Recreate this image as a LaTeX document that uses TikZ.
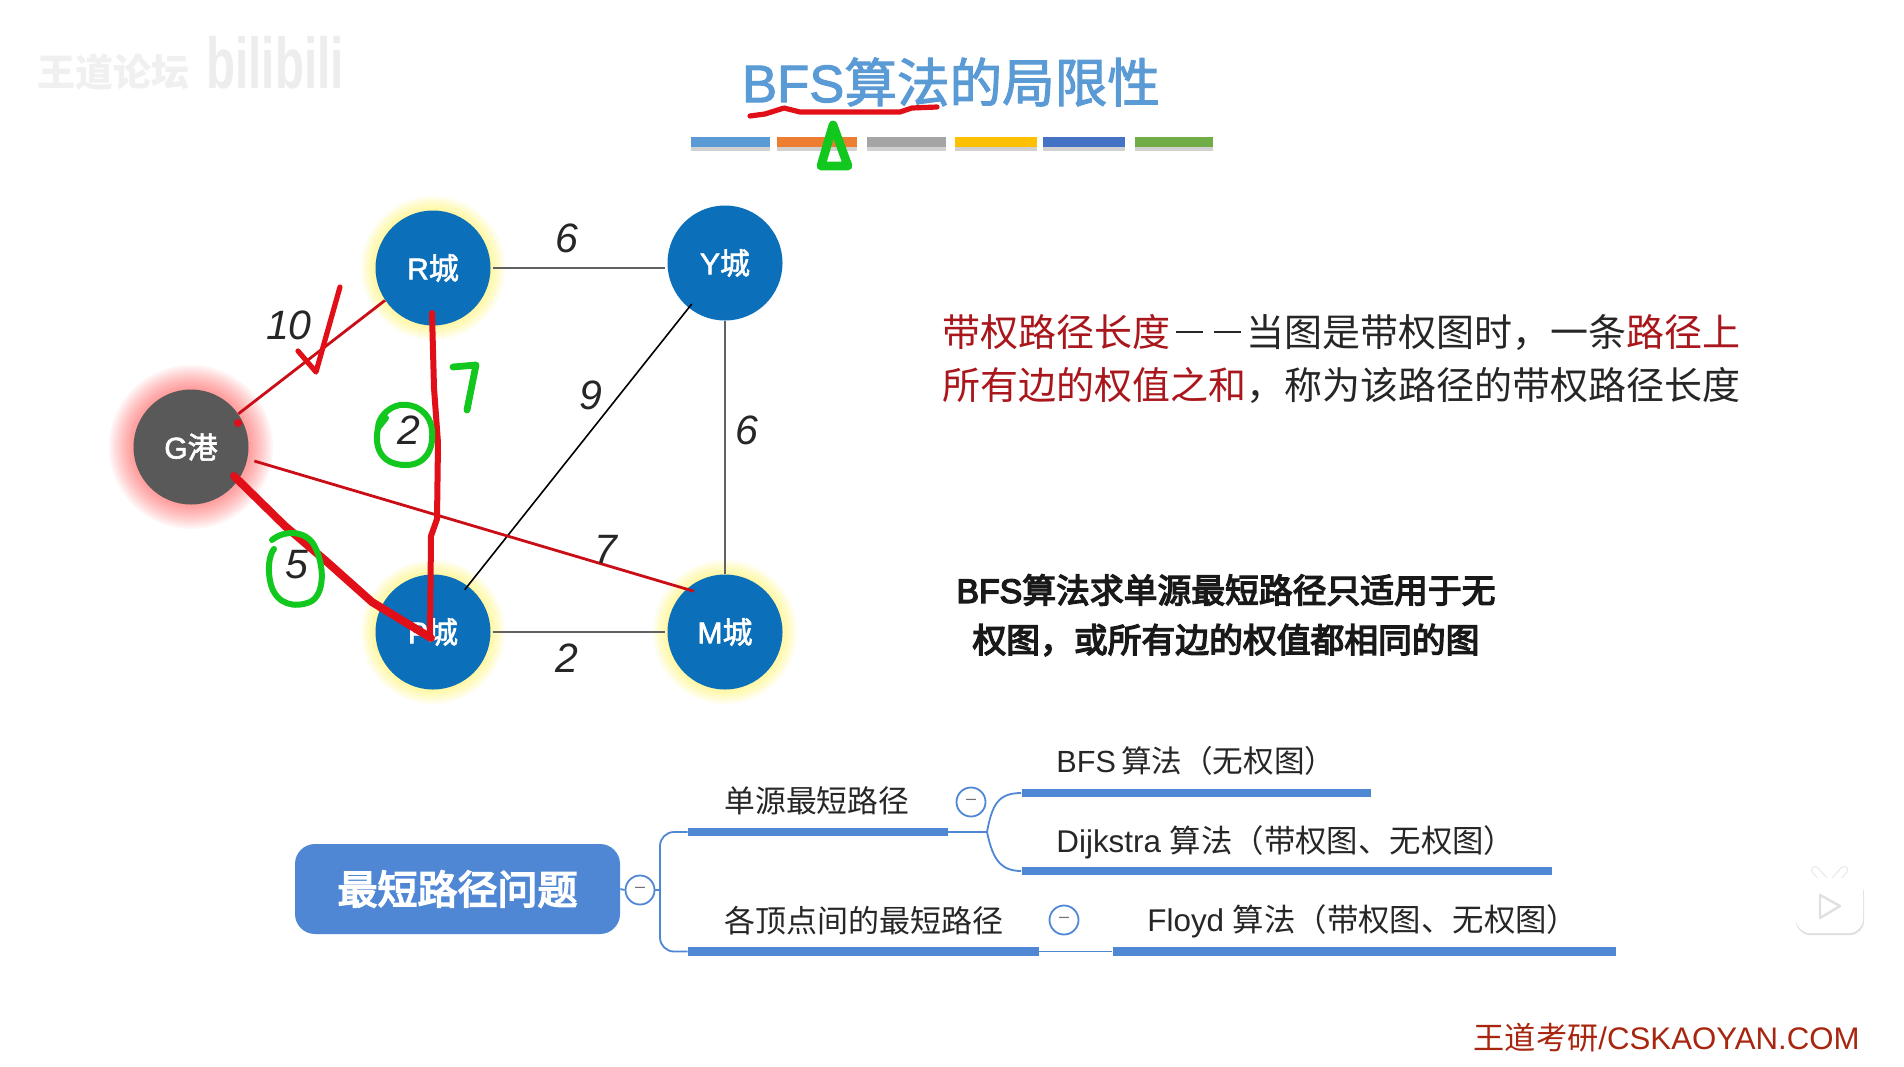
\documentclass[tikz,border=0pt]{standalone}
\usepackage{fontspec}
\setmainfont{Liberation Sans}
\newfontfamily\cjk{Noto Sans CJK SC}
\newfontfamily\cjkm[FakeBold=2]{Noto Sans CJK SC}
\newfontfamily\cjkb[FakeBold=4]{Noto Sans CJK SC}
\newfontfamily\latm[FakeBold=2]{Liberation Sans}
\newfontfamily\latb[FakeBold=4]{Liberation Sans}
\newcommand\cj[1]{{\cjk #1}}
\newcommand\cjm[1]{{\cjkm #1}}
\newcommand\cjb[1]{{\cjkb #1}}
\newcommand\fsz[1]{\fontsize{#1}{#1}\selectfont}
\newcommand\dashcell{\makebox[1em]{\rule[0.33em]{0.72em}{0.07em}}}
\usetikzlibrary{calc}
\pgfdeclarelayer{bg}
\pgfdeclarelayer{top}
\pgfsetlayers{bg,main,top}
\definecolor{cityblue}{HTML}{0B6FBA}
\definecolor{portgray}{HTML}{595959}
\definecolor{titleblue}{HTML}{5B9BD5}
\definecolor{mapblue}{HTML}{4F87D4}
\definecolor{darkred}{HTML}{A9161C}
\definecolor{footred}{HTML}{A8260F}
\definecolor{inkred}{HTML}{E00F18}
\definecolor{inkgreen}{HTML}{12C81E}
\tikzset{
  city/.style={circle,fill=cityblue,text=white,minimum size=57.5pt,inner sep=0pt,font=\fsz{15}\latm},
  port/.style={city,fill=portgray},
  edgeg/.style={draw=black!62,line width=1.4pt},
  edgek/.style={draw=black,line width=.8pt},
  edger/.style={draw=inkred!90!black,line width=1.4pt},
  weight/.style={inner sep=0pt,font=\fsz{20.5}\itshape,text=black!85},
  inkr/.style={draw=inkred,line cap=round,line join=round,line width=2.8pt},
  inkg/.style={draw=inkgreen,line cap=round,line join=round,line width=3pt},
  swatch/.style={inner sep=0pt,minimum height=5pt},
  lbl/.style={anchor=west,inner sep=0pt,font=\fsz{19}\cjk,text=black!85},
  bfslbl/.style={inner sep=0pt,font=\fsz{16.9}\latb,text=black!90},
  maplbl/.style={anchor=west,inner sep=0pt,font=\fsz{15.3},text=black!85},
  bar/.style={fill=mapblue,inner sep=0pt,minimum height=4.2pt},
  conn/.style={draw=mapblue,line width=.9pt},
  minus/.style={circle,draw=mapblue,fill=white,line width=.9pt,minimum size=14.5pt,inner sep=0pt,font=\fsz{9},text=black!55},
}
\begin{document}
\begin{tikzpicture}[x=0.5pt,y=-0.5pt]
\useasboundingbox (0,0) rectangle (1904,1066);
\begin{pgfonlayer}{bg}
\fill[white] (0,0) rectangle (1904,1066);
\end{pgfonlayer}

% watermark
\node[inner sep=0pt,text=black!6,font=\fsz{19}\cjk\bfseries] (wm1) at (113,72) {王道论坛};
\node[inner sep=0pt,text=black!7,font=\fsz{36}\bfseries] (wm2) at (275,63) {\scalebox{0.66}[1]{bilibili}};

% title
\node[inner sep=0pt,text=titleblue,font=\fsz{26.3}\latm] (title) at (951,82) {BFS\cjm{算法的局限性}};
\foreach \n/\a/\b/\c in {s1/691/770/5B9BD5,s2/777/857/ED7D31,s3/867/946/A5A5A5,s4/955/1037/FFC000,s5/1043/1125/4472C4,s6/1135/1213/70AD47}{
  \definecolor{tmpc}{HTML}{\c}
  \fill[black!18] (\a,146) rectangle (\b,151);
  \node[swatch,fill=tmpc,minimum width={(\b-\a)*0.5pt}] (\n) at ({(\a+\b)/2},142) {};
}

% graph nodes
\node[city] (R) at (433,268) {R\cjm{城}};
\node[city] (Y) at (725,263) {Y\cjm{城}};
\node[port] (G) at (191,447) {G\cjm{港}};
\node[city] (P) at (433,632) {P\cjm{城}};
\node[city] (M) at (725,632) {M\cjm{城}};

\begin{pgfonlayer}{bg}
  \foreach \r in {58,60,...,72}{
    \fill[yellow!75!white,opacity=.075] (R) circle (\r*0.5pt);
    \fill[yellow!75!white,opacity=.075] (P) circle (\r*0.5pt);
    \fill[yellow!75!white,opacity=.075] (M) circle (\r*0.5pt);
  }
  \foreach \r in {58,60,...,82}{
    \fill[red!85!white,opacity=.042] (G) circle (\r*0.5pt);
  }
\end{pgfonlayer}

% edges
\draw[edgeg,shorten <=1pt,shorten >=1pt] (R.east) -- (R-|Y.west);
\draw[edgeg] (Y.south) -- (M.north);
\draw[edgeg,shorten <=1pt,shorten >=1pt] (P.east) -- (M.west);
\draw[edgek,shorten <=-2.5pt,shorten >=-2.5pt] (Y.231) -- (P.53);
\draw[edger] (G.35) -- (R.214);
\draw[edger,shorten <=3.5pt,shorten >=-4pt] (G.-12) -- (M.132);

% weights
\node[weight] (w1) at (567,238) {6};
\node[weight] (w2) at (289,325) {10};
\node[weight] (w3) at (409,430) {2};
\node[weight] (w4) at (591,395) {9};
\node[weight] (w5) at (747,430) {6};
\node[weight] (w6) at (606,549) {7};
\node[weight] (w7) at (567,658) {2};
\node[weight] (w8) at (297,565) {5};

% hand strokes
\begin{pgfonlayer}{top}
\draw[inkr,line width=3pt] (432,313) -- (434,388) -- (438,443) -- (437,519) -- (431,536) -- (430,637);
\draw[inkr,line width=4pt] (234,476) -- (285,526) -- (326,561) -- (372,602) -- (431,638);
\draw[inkr,line width=2.6pt] (340,287) -- (316,372) -- (298,351);
\fill[inkred] (238,423) circle (2pt);
\draw[inkr,line width=2.6pt] (750,116) -- (765,114) -- (784,108) -- (800,112) -- (900,112) -- (912,108) -- (937,107);
\draw[inkg,line width=3.4pt] (453,367) -- (476,365) -- (467,410);
\draw[inkg] (386,418) -- (378,428) .. controls (374,446) and (380,465) .. (406,465) .. controls (425,465) and (434,450) .. (432,430) .. controls (430,412) and (415,403) .. (400,405) .. controls (388,407) and (378,418) .. (378,428);
\draw[inkg] (272,540) .. controls (284,530) and (305,530) .. (314,545) .. controls (325,565) and (325,595) .. (310,602) .. controls (295,608) and (277,605) .. (271,585) .. controls (267,570) and (269,555) .. (274,549);
\draw[inkg,line width=4.4pt,line join=round] (833,125) -- (821,166) -- (848,166) -- cycle;
\end{pgfonlayer}

% right text
\node[lbl] (t1) at (942,332) {\textcolor{darkred}{带权路径长度}\dashcell\dashcell 当图是带权图时，一条\textcolor{darkred}{路径上}};
\node[lbl] (t2) at (942,385) {\textcolor{darkred}{所有边的权值之和}，称为该路径的带权路径长度};
\node[bfslbl] (t3) at (1226,590) {BFS\cjb{算法求单源最短路径只适用于无}};
\node[bfslbl] (t4) at (1226,640) {\cjb{权图，或所有边的权值都相同的图}};

% mind map
\node[fill=mapblue,rounded corners=10pt,minimum width=162.5pt,minimum height=45pt,inner sep=0pt,text=white,font=\fsz{20}\cjkb] (root) at (457.5,889) {最短路径问题};
\node[minus] (m0) at (640,890) {--};
\node[minus] (m1) at (971,802) {--};
\node[minus] (m2) at (1064,920) {--};
\node[bar,minimum width=130pt] (b1) at (818,832) {};
\node[bar,minimum width=175.5pt] (b2) at (863.5,951.5) {};
\node[bar,minimum width=174.7pt] (b3) at (1196.2,793) {};
\node[bar,minimum width=265.2pt] (b4) at (1286.7,871) {};
\node[bar,minimum width=251.5pt] (b5) at (1364,951.5) {};
\coordinate (t0) at (660,890);
\coordinate (j1) at (987,832);
\draw[conn] (root.east) -- (m0.west);
\draw[conn] (m0.east) -- (t0);
\draw[conn,rounded corners=7pt] (b1.west) -| (t0) |- (b2.west);
\draw[conn] (b1.east) -- (j1);
\draw[conn] (j1) .. controls (992,805) and (998,793) .. (b3.west);
\draw[conn] (j1) .. controls (992,855) and (998,871) .. (b4.west);
\draw[conn] (b2.east) -- (b5.west);
\node[maplbl,font=\fsz{15.4}\cjk] (n1) at (724,801) {单源最短路径};
\node[maplbl,font=\fsz{15.5}\cjk] (n2) at (724,921) {各顶点间的最短路径};
\node[maplbl] (n3) at (1056,761) {BFS\,\cj{算法（无权图）}};
\node[maplbl,font=\fsz{15.7}] (n4) at (1056,842) {Dijkstra \cj{算法（带权图、无权图）}};
\node[maplbl,font=\fsz{15.7}] (n5) at (1147,921) {Floyd \cj{算法（带权图、无权图）}};

% footer
\node[inner sep=0pt,anchor=east,text=footred,font=\fsz{15.6}] (foot) at (1860,1038) {\cj{王道考研}/CSKAOYAN.COM};

% player icon
\fill[black!12,rounded corners=7pt] (1796,880) rectangle (1864,935);
\draw[black!10,line width=4pt,line cap=round] (1815,870) -- (1824,880);
\draw[black!10,line width=4pt,line cap=round] (1844,870) -- (1835,880);
\draw[white,line width=3pt,line cap=round] (1815,870) -- (1824,880);
\draw[white,line width=3pt,line cap=round] (1844,870) -- (1835,880);
\fill[white,rounded corners=7pt] (1796,878) rectangle (1863,933);
\draw[black!12,line width=1.2pt,line join=round,fill=white] (1820,895) -- (1840,906) -- (1820,918) -- cycle;
\end{tikzpicture}
\end{document}
